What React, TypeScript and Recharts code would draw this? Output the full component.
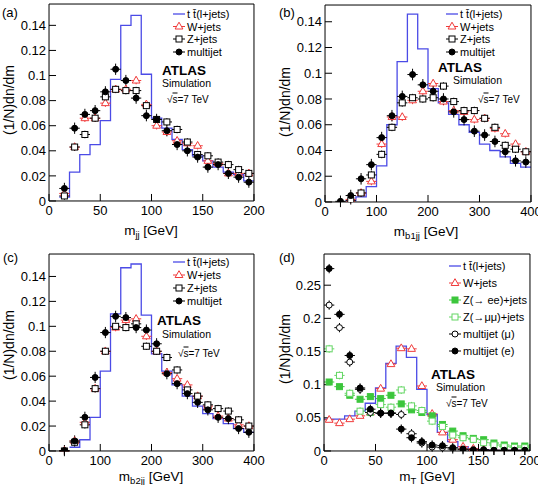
import React from "react"
import { ComposedChart, Line, Scatter, XAxis, YAxis, ErrorBar } from "recharts"

const W = 538
const H = 485
const FONT = '"Liberation Sans", Arial, Helvetica, sans-serif'
const BLUE = "#4b4be6"
const RED = "#f03a3a"
const GREEN = "#3cc63c"
const LIGHT_GREEN = "#64d664"
// axes need a non-zero band to be drawn; keep it negligible so they all sit on the frame
const THIN = 0.01

// (a) m_jj, 10 GeV bins
const edgesA = [10, 20, 30, 40, 50, 60, 70, 80, 90, 100, 110, 120, 130, 140, 150, 160, 170, 180, 190, 200]
const centersA = [15, 25, 35, 45, 55, 65, 75, 85, 95, 105, 115, 125, 135, 145, 155, 165, 175, 185, 195]
const ttbarA = [0.003, 0.023, 0.037, 0.045, 0.064, 0.097, 0.14, 0.148, 0.101, 0.066, 0.058, 0.049, 0.041, 0.036, 0.032, 0.027, 0.023, 0.021, 0.016]
const wjetsA = [0.006, 0.043, 0.066, 0.066, 0.078, 0.089, 0.089, 0.096, 0.077, 0.06, 0.055, 0.048, 0.046, 0.044, 0.032, 0.03, 0.022, 0.022, 0.022]
const zjetsA = [0.004, 0.043, 0.053, 0.066, 0.083, 0.089, 0.088, 0.088, 0.076, 0.065, 0.063, 0.057, 0.047, 0.037, 0.036, 0.031, 0.029, 0.025, 0.022]
const multijetA = [0.01, 0.058, 0.069, 0.072, 0.087, 0.105, 0.096, 0.082, 0.068, 0.065, 0.056, 0.045, 0.04, 0.035, 0.027, 0.029, 0.022, 0.019, 0.015]

// (b) m_b1jj and (c) m_b2jj, 20 GeV bins
const edgesBC = [40, 60, 80, 100, 120, 140, 160, 180, 200, 220, 240, 260, 280, 300, 320, 340, 360, 380, 400]
const centersBC = [30, 50, 70, 90, 110, 130, 150, 170, 190, 210, 230, 250, 270, 290, 310, 330, 350, 370, 390]
const ttbarB = [0.001, 0.004, 0.012, 0.028, 0.06, 0.109, 0.146, 0.119, 0.088, 0.077, 0.068, 0.06, 0.054, 0.045, 0.04, 0.035, 0.03, 0.027]
const wjetsB = [null, 0.002, 0.007, 0.016, 0.045, 0.066, 0.066, 0.079, 0.086, 0.092, 0.078, 0.071, 0.07, 0.064, 0.065, 0.057, 0.053, 0.045, 0.039]
const zjetsB = [null, 0.001, 0.007, 0.021, 0.037, 0.058, 0.077, 0.081, 0.08, 0.081, 0.09, 0.078, 0.071, 0.071, 0.065, 0.058, 0.044, 0.041, 0.039]
const multijetB = [0.0005, 0.005, 0.018, 0.029, 0.05, 0.067, 0.082, 0.099, 0.091, 0.086, 0.08, 0.07, 0.064, 0.055, 0.052, 0.047, 0.039, 0.032, 0.031]

const ttbarC = [0.003, 0.009, 0.027, 0.064, 0.11, 0.147, 0.15, 0.109, 0.078, 0.064, 0.053, 0.044, 0.036, 0.03, 0.026, 0.022, 0.018, 0.015]
const wjetsC = [0.0, 0.008, 0.023, 0.05, 0.08, 0.099, 0.105, 0.106, 0.092, 0.08, 0.063, 0.058, 0.053, 0.044, 0.036, 0.028, 0.026, 0.021, 0.02]
const zjetsC = [0.0, 0.007, 0.021, 0.05, 0.08, 0.1, 0.099, 0.102, 0.084, 0.08, 0.075, 0.065, 0.049, 0.044, 0.037, 0.034, 0.032, 0.025, 0.02]
const multijetC = [0.0003, 0.008, 0.027, 0.059, 0.095, 0.108, 0.107, 0.099, 0.097, 0.086, 0.062, 0.054, 0.046, 0.039, 0.033, 0.027, 0.026, 0.018, 0.015]

// (d) m_T, 10 GeV bins
const edgesD = [0, 10, 20, 30, 40, 50, 60, 70, 80, 90, 100, 110, 120, 130, 140, 150, 160, 170, 180, 190, 200]
const centersD = [5, 15, 25, 35, 45, 55, 65, 75, 85, 95, 105, 115, 125, 135, 145, 155, 165, 175, 185, 195]
const ttbarD = [0.048, 0.048, 0.053, 0.06, 0.072, 0.095, 0.132, 0.158, 0.141, 0.093, 0.055, 0.028, 0.014, 0.0065, 0.0035, 0.002, 0.001, 0.001, 0.001, 0.001]
const wjetsD = [0.047, 0.042, 0.048, 0.053, 0.058, 0.094, 0.131, 0.155, 0.154, 0.098, 0.056, 0.028, 0.017, 0.0065, 0.0035, 0.0015, 0.001, 0.001, 0.001, 0.001]
const zeeD = [0.104, 0.097, 0.084, 0.078, 0.082, 0.079, 0.084, 0.071, 0.062, 0.058, 0.053, 0.04, 0.03, 0.023, 0.019, 0.017, 0.012, 0.009, 0.0075, 0.0075]
const zmumuD = [0.154, 0.114, 0.087, 0.06, 0.058, 0.07, 0.066, 0.092, 0.068, 0.061, 0.045, 0.037, 0.024, 0.02, 0.0175, 0.0125, 0.009, 0.0065, 0.0055, 0.005]
const multijetMuD = [0.22, 0.186, 0.134, 0.093, 0.058, 0.057, 0.057, 0.055, 0.026, 0.012, 0.006, 0.005, 0.003, 0.002, 0.001, 0.001, 0.001, 0.001, 0.001, 0.001]
const multijetED = [0.275, 0.206, 0.144, 0.095, 0.063, 0.057, 0.057, 0.033, 0.02, 0.014, 0.009, 0.008, 0.005, 0.003, 0.002, 0.002, 0.001, 0.001, 0.001, 0.001]

// axis ticks
const xTicks200 = [0, 50, 100, 150, 200]
const xTicks400 = [0, 100, 200, 300, 400]
const yTicksSmall = [0, 0.02, 0.04, 0.06, 0.08, 0.1, 0.12, 0.14]
const yTicksD = [0, 0.05, 0.1, 0.15, 0.2, 0.25]

const grid = (lo: number, hi: number, step: number) => {
  const out: number[] = []
  for (let v = lo; v <= hi + 1e-9; v += step) out.push(Math.round(v * 1e6) / 1e6)
  return out
}

const stepPoints = (edges: number[], vals: number[]) =>
  edges.map((x, i) => ({ x, y: vals[Math.min(i, vals.length - 1)] }))

const markerPoints = (xs: number[], ys: (number | null)[], ex: number, ey: number) =>
  xs.map((x, i) => ({ x, y: ys[i], ex, ey })).filter((p) => p.y !== null)

type Kind = "triangle" | "square" | "circle"

function Marker({ kind, cx, cy, color, filled }: { kind: Kind; cx: number; cy: number; color: string; filled: boolean }) {
  const fill = filled ? color : "#fff"
  if (kind === "triangle")
    return <polygon points={`${cx},${cy - 4.3} ${cx + 3.9},${cy + 2.5} ${cx - 3.9},${cy + 2.5}`} fill={fill} stroke={color} strokeWidth={1} />
  if (kind === "square")
    return <rect x={cx - 3} y={cy - 3} width={6} height={6} fill={fill} stroke={color} strokeWidth={1} />
  return <circle cx={cx} cy={cy} r={3} fill={fill} stroke={color} strokeWidth={1} />
}

interface Series {
  label: string
  pts: { x: number; y: number | null; ex: number; ey: number }[]
  kind: Kind
  color: string
  filled: boolean
}

interface PanelProps {
  box: { x0: number; y0: number; x1: number; y1: number }
  xMax: number
  xTicks: number[]
  xMinor: number[]
  yMax: number
  yTicks: number[]
  yMinor: number[]
  hist: { x: number; y: number }[]
  series: Series[]
}

const axisStroke = { stroke: "#000", strokeWidth: 1 }
const tickText = { fontSize: 13, fill: "#000", fontFamily: FONT }

function Panel({ box, xMax, xTicks, xMinor, yMax, yTicks, yMinor, hist, series }: PanelProps) {
  const margin = { top: box.y0, left: box.x0, right: W - box.x1, bottom: H - box.y1 }
  const xCommon = { type: "number" as const, dataKey: "x", domain: [0, xMax], allowDataOverflow: true, interval: 0 as const, height: THIN }
  const yCommon = { type: "number" as const, dataKey: "y", domain: [0, yMax], allowDataOverflow: true, interval: 0 as const, width: THIN }
  return (
    <div style={{ position: "absolute", left: 0, top: 0 }}>
      <ComposedChart width={W} height={H} margin={margin}>
        <XAxis xAxisId="minor" {...xCommon} ticks={xMinor} tickSize={-3.5} tick={false} axisLine={false} tickLine={axisStroke} />
        <XAxis xAxisId="topMinor" orientation="top" {...xCommon} ticks={xMinor} tickSize={-3.5} tick={false} axisLine={false} tickLine={axisStroke} />
        <XAxis xAxisId="top" orientation="top" {...xCommon} ticks={xTicks} tickSize={-7} tick={false} axisLine={axisStroke} tickLine={axisStroke} />
        <XAxis {...xCommon} ticks={xTicks} tickSize={-7} tickMargin={12} tick={tickText} axisLine={axisStroke} tickLine={axisStroke} />
        <YAxis yAxisId="minor" {...yCommon} ticks={yMinor} tickSize={-3.5} tick={false} axisLine={false} tickLine={axisStroke} />
        <YAxis yAxisId="rightMinor" orientation="right" {...yCommon} ticks={yMinor} tickSize={-3.5} tick={false} axisLine={false} tickLine={axisStroke} />
        <YAxis yAxisId="right" orientation="right" {...yCommon} ticks={yTicks} tickSize={-7} tick={false} axisLine={axisStroke} tickLine={axisStroke} />
        <YAxis {...yCommon} ticks={yTicks} tickSize={-7} tickMargin={10} tick={tickText} axisLine={axisStroke} tickLine={axisStroke} />
        <Line data={hist} dataKey="y" type="stepAfter" stroke={BLUE} strokeWidth={1.3} dot={false} isAnimationActive={false} />
        {series.map((s) => (
          <Scatter
            key={s.label}
            data={s.pts}
            isAnimationActive={false}
            shape={(p: any) => <Marker kind={s.kind} cx={p.cx} cy={p.cy} color={s.color} filled={s.filled} />}
          >
            <ErrorBar dataKey="ex" direction="x" width={0} stroke={s.color} strokeWidth={1} isAnimationActive={false} />
            <ErrorBar dataKey="ey" direction="y" width={0} stroke={s.color} strokeWidth={1} isAnimationActive={false} />
          </Scatter>
        ))}
      </ComposedChart>
    </div>
  )
}

const TTBAR = "t t\u0304(l+jets)"

const seriesA: Series[] = [
  { label: "W+jets", pts: markerPoints(centersA, wjetsA, 5, 0.003), kind: "triangle", color: RED, filled: false },
  { label: "Z+jets", pts: markerPoints(centersA, zjetsA, 5, 0.003), kind: "square", color: "#000", filled: false },
  { label: "multijet", pts: markerPoints(centersA, multijetA, 5, 0.0045), kind: "circle", color: "#000", filled: true },
]
const seriesB: Series[] = [
  { label: "W+jets", pts: markerPoints(centersBC, wjetsB, 10, 0.003), kind: "triangle", color: RED, filled: false },
  { label: "Z+jets", pts: markerPoints(centersBC, zjetsB, 10, 0.003), kind: "square", color: "#000", filled: false },
  { label: "multijet", pts: markerPoints(centersBC, multijetB, 10, 0.0045), kind: "circle", color: "#000", filled: true },
]
const seriesC: Series[] = [
  { label: "W+jets", pts: markerPoints(centersBC, wjetsC, 10, 0.003), kind: "triangle", color: RED, filled: false },
  { label: "Z+jets", pts: markerPoints(centersBC, zjetsC, 10, 0.003), kind: "square", color: "#000", filled: false },
  { label: "multijet", pts: markerPoints(centersBC, multijetC, 10, 0.0045), kind: "circle", color: "#000", filled: true },
]
const seriesD: Series[] = [
  { label: "W+jets", pts: markerPoints(centersD, wjetsD, 5, 0.003), kind: "triangle", color: RED, filled: false },
  { label: "Z(\u2192 ee)+jets", pts: markerPoints(centersD, zeeD, 5, 0.004), kind: "square", color: GREEN, filled: true },
  { label: "Z(\u2192\u03bc\u03bc)+jets", pts: markerPoints(centersD, zmumuD, 5, 0.006), kind: "square", color: LIGHT_GREEN, filled: false },
  { label: "multijet (\u03bc)", pts: markerPoints(centersD, multijetMuD, 5, 0.007), kind: "circle", color: "#000", filled: false },
  { label: "multijet (e)", pts: markerPoints(centersD, multijetED, 5, 0.007), kind: "circle", color: "#000", filled: true },
]

function Legend({ x, ys, series }: { x: number; ys: number[]; series: Series[] }) {
  return (
    <g>
      <line x1={x - 6} x2={x + 6} y1={ys[0]} y2={ys[0]} stroke={BLUE} strokeWidth={1.3} />
      <text x={x + 8} y={ys[0] + 4} fontSize={11}>{TTBAR}</text>
      {series.map((s, i) => (
        <g key={s.label}>
          <line x1={x - 6} x2={x + 6} y1={ys[i + 1]} y2={ys[i + 1]} stroke={s.color} strokeWidth={1} />
          <Marker kind={s.kind} cx={x} cy={ys[i + 1]} color={s.color} filled={s.filled} />
          <text x={x + 8} y={ys[i + 1] + 4} fontSize={11}>{s.label}</text>
        </g>
      ))}
    </g>
  )
}

function AtlasLabel({ x, y, sx, sy, ex, ey }: { x: number; y: number; sx: number; sy: number; ex: number; ey: number }) {
  return (
    <g>
      <text x={x} y={y} fontSize={13.5} fontWeight="bold">ATLAS</text>
      <text x={sx} y={sy} fontSize={10.5}>Simulation</text>
      <text x={ex} y={ey} fontSize={10}>
        {"\u221a"}
        <tspan style={{ textDecoration: "overline" }}>s</tspan>
        {"=7 TeV"}
      </text>
    </g>
  )
}

function XTitle({ x, y, sub }: { x: number; y: number; sub: string }) {
  return (
    <text x={x} y={y} fontSize={13.5} textAnchor="middle">
      m<tspan fontSize={9.5} dy={3}>{sub}</tspan>
      <tspan dy={-3}> [GeV]</tspan>
    </text>
  )
}

function YTitle({ x, y }: { x: number; y: number }) {
  return (
    <text x={x} y={y} fontSize={14} textAnchor="middle" transform={`rotate(-90 ${x} ${y})`}>
      (1/N)dn/dm
    </text>
  )
}

export default function App() {
  return (
    <div style={{ position: "absolute", left: 0, top: 0, width: W, height: H, background: "#fff", fontFamily: FONT }}>
      <Panel
        box={{ x0: 49, y0: 4, x1: 254, y1: 201 }}
        xMax={200} xTicks={xTicks200} xMinor={grid(0, 200, 10)}
        yMax={0.157} yTicks={yTicksSmall} yMinor={grid(0, 0.155, 0.005)}
        hist={stepPoints(edgesA, ttbarA)} series={seriesA}
      />
      <Panel
        box={{ x0: 325, y0: 5, x1: 531, y1: 202 }}
        xMax={400} xTicks={xTicks400} xMinor={grid(0, 400, 20)}
        yMax={0.153} yTicks={yTicksSmall} yMinor={grid(0, 0.15, 0.005)}
        hist={stepPoints(edgesBC, ttbarB)} series={seriesB}
      />
      <Panel
        box={{ x0: 49, y0: 254, x1: 254, y1: 451 }}
        xMax={400} xTicks={xTicks400} xMinor={grid(0, 400, 20)}
        yMax={0.158} yTicks={yTicksSmall} yMinor={grid(0, 0.155, 0.005)}
        hist={stepPoints(edgesBC, ttbarC)} series={seriesC}
      />
      <Panel
        box={{ x0: 324, y0: 254, x1: 530, y1: 451 }}
        xMax={200} xTicks={xTicks200} xMinor={grid(0, 200, 10)}
        yMax={0.297} yTicks={yTicksD} yMinor={grid(0, 0.29, 0.01)}
        hist={stepPoints(edgesD, ttbarD)} series={seriesD}
      />
      <svg width={W} height={H} style={{ position: "absolute", left: 0, top: 0, pointerEvents: "none" }} fontFamily={FONT} fill="#000">
        <text x={2} y={17} fontSize={13}>(a)</text>
        <text x={279} y={17} fontSize={13}>(b)</text>
        <text x={3} y={262} fontSize={13}>(c)</text>
        <text x={279} y={262} fontSize={13}>(d)</text>

        <YTitle x={14} y={100} />
        <YTitle x={290} y={102} />
        <YTitle x={14} y={345} />
        <YTitle x={290} y={349} />

        <XTitle x={151} y={235} sub="jj" />
        <XTitle x={426} y={236} sub="b1jj" />
        <XTitle x={151} y={481} sub="b2jj" />
        <XTitle x={427} y={481} sub="T" />

        <Legend x={179} ys={[14, 26.5, 39, 52]} series={seriesA} />
        <Legend x={452} ys={[14, 26.5, 39, 52]} series={seriesB} />
        <Legend x={179} ys={[262, 275, 288, 301]} series={seriesC} />
        <Legend x={455} ys={[266, 283, 300, 317, 334, 351]} series={seriesD} />

        <AtlasLabel x={162} y={75} sx={162} sy={87} ex={167} ey={102.5} />
        <AtlasLabel x={438} y={72} sx={453} sy={84} ex={478} ey={102.5} />
        <AtlasLabel x={157} y={325} sx={162} sy={337.5} ex={178} ey={356.5} />
        <AtlasLabel x={431} y={379} sx={436} sy={391} ex={446} ey={406.5} />
      </svg>
    </div>
  )
}
